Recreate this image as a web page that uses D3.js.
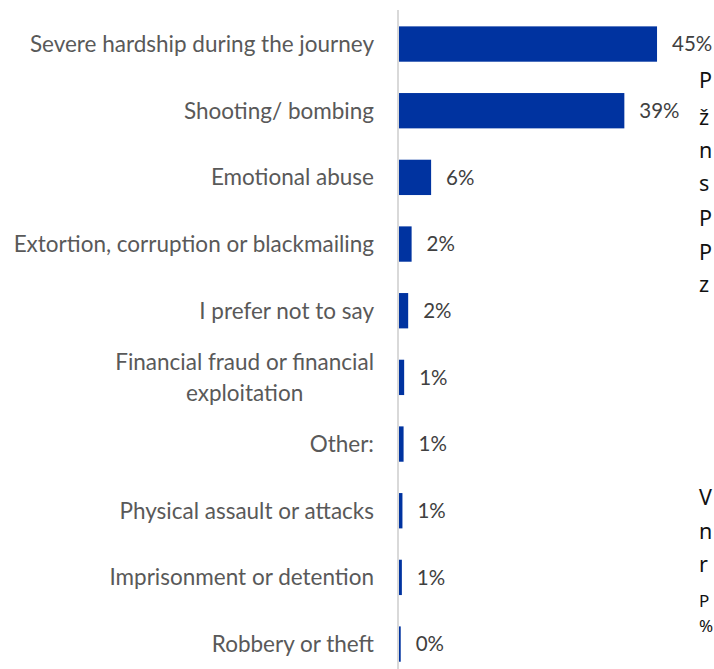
<!DOCTYPE html>
<html>
<head>
<meta charset="utf-8">
<script src="https://cdn.jsdelivr.net/npm/d3@7"></script>
<style>
  html, body { margin: 0; padding: 0; background: #fff; overflow: hidden; }
  svg { display: block; }
</style>
</head>
<body>
<svg id="chart" width="714" height="669"></svg>
<script>
// ---- data ----
const categories = [
  "Severe hardship during the journey",
  "Shooting/ bombing",
  "Emotional abuse",
  "Extortion, corruption or blackmailing",
  "I prefer not to say",
  "Financial fraud or financial|exploitation",
  "Other:",
  "Physical assault or attacks",
  "Imprisonment or detention",
  "Robbery or theft"
];
const values = [45, 39.3, 5.6, 2.2, 1.6, 0.9, 0.8, 0.6, 0.5, 0.3];

// cut-off surrounding text fragments at the right edge
const sideTextTop = ["P", "ž", "n", "s", "P", "P", "z"];
const sideTextBottom = ["V", "n", "r", "P", "%"];

// ---- layout ----
const svg = d3.select("#chart");
const W = 714, H = 669;
const x0 = 399;
const labelFont = "Lato, 'Noto Sans', sans-serif";
const labelSize = 22.5;

const x = d3.scaleLinear().domain([0, 50]).range([x0, x0 + 286.7]);
const y = d3.scaleBand().domain(categories).range([10.7, 677.4])
  .paddingInner(0.47).paddingOuter(0.235);

// axis line
svg.append("line")
  .attr("x1", x0 - 1).attr("x2", x0 - 1)
  .attr("y1", 10).attr("y2", H)
  .attr("stroke", "#d9d9d9").attr("stroke-width", 2);

// bars
svg.selectAll("rect.bar").data(categories).join("rect")
  .attr("class", "bar")
  .attr("x", x(0))
  .attr("y", d => y(d))
  .attr("width", (d, i) => x(values[i]) - x(0))
  .attr("height", y.bandwidth())
  .attr("fill", "#0033a0");

// value labels
svg.selectAll("text.val").data(categories).join("text")
  .attr("class", "val")
  .attr("x", (d, i) => x(values[i]) + 15)
  .attr("y", d => y(d) + y.bandwidth() / 2)
  .attr("dy", "0.36em")
  .attr("font-family", labelFont)
  .attr("font-size", 20.5)
  .attr("fill", "#404040")
  .text((d, i) => Math.round(values[i]) + "%");

// category labels
const labelRight = 374;
categories.forEach(c => {
  const lines = c.split("|");
  const cy = y(c) + y.bandwidth() / 2;
  if (lines.length === 1) {
    svg.append("text")
      .attr("x", labelRight).attr("y", cy).attr("dy", "0.36em")
      .attr("text-anchor", "end")
      .attr("font-family", labelFont).attr("font-size", labelSize)
      .attr("fill", "#595959")
      .text(c);
  } else {
    const g = svg.append("g");
    const t1 = g.append("text")
      .attr("font-family", labelFont).attr("font-size", labelSize)
      .text(lines[0]);
    const w = t1.node().getComputedTextLength();
    const cx = labelRight - w / 2;
    const lh = 31;
    t1.attr("x", cx).attr("y", cy - lh / 2).attr("dy", "0.36em")
      .attr("text-anchor", "middle").attr("fill", "#595959");
    g.append("text")
      .attr("x", cx).attr("y", cy + lh / 2).attr("dy", "0.36em")
      .attr("text-anchor", "middle")
      .attr("font-family", labelFont).attr("font-size", labelSize)
      .attr("fill", "#595959")
      .text(lines[1]);
  }
});

// side text fragments at the right edge
const topY = [80, 117, 150, 183, 218, 252, 284];
const botY = [497, 531, 564, 601, 626];
svg.selectAll("text.sideTop").data(sideTextTop).join("text")
  .attr("class", "sideTop")
  .attr("x", 699).attr("y", (d, i) => topY[i]).attr("dy", "0.36em")
  .attr("font-family", "'Noto Sans', sans-serif").attr("font-size", 21.5)
  .attr("fill", "#111").text(d => d);
svg.selectAll("text.sideBot").data(sideTextBottom).join("text")
  .attr("class", "sideBot")
  .attr("x", 699).attr("y", (d, i) => botY[i]).attr("dy", "0.36em")
  .attr("font-family", "'Noto Sans', sans-serif")
  .attr("font-size", (d, i) => i >= 3 ? 17 : 21.5)
  .attr("fill", "#111").text(d => d);
</script>
</body>
</html>
